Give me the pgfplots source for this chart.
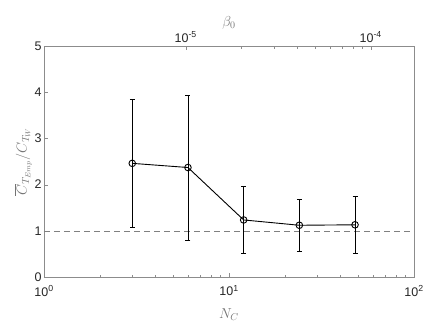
\documentclass[border=0pt]{standalone}
\usepackage{pgfplots}
\pgfplotsset{compat=1.18}
\usepackage{fontspec}
\setmainfont{Liberation Sans}

\definecolor{axgray}{gray}{0.55}
\definecolor{labgray}{gray}{0.45}

\begin{document}
\begin{tikzpicture}
	\pgfplotsset{
		every axis/.append style={
			scale only axis, width=370pt, height=231pt,
			axis line style={axgray}, tick style={axgray},
			tick align=inside,
			major tick length=4pt, minor tick length=2.5pt,
			tick label style={font=\fontsize{12.5}{14}\selectfont, black!85},
			label style={labgray, font=\fontsize{14}{16}\selectfont},
		},
	}
	\begin{axis}[
		xmode=log, xmin=1, xmax=100,
		ymin=0, ymax=5,
		xtick={1,10,100},
		xticklabels={10\textsuperscript{0},10\textsuperscript{1},10\textsuperscript{2}},
		ytick={0,1,...,5},
		xtick pos=bottom, ytick pos=left,
		xticklabel style={yshift=-5pt},
		yticklabel style={xshift=1pt},
		xlabel={$N_C$},
		ylabel={$\overline{C}_{T_{Emp}}/C_{T_W}$},
		xlabel style={yshift=-6pt},
		ylabel style={yshift=-4pt},
		/pgf/number format/assume math mode=true,
	]
	% reference level
	\addplot [gray, dashed, dash pattern=on 6pt off 4pt, line width=0.6pt] coordinates {(1,1) (100,1)};
	% mean ratio with error bars
	\addplot [black, line width=0.9pt, mark=o, mark size=3.3pt,
		error bars/.cd, y dir=both, y explicit,
		error bar style={line width=0.9pt},
		error mark options={rotate=90, mark size=2.5pt, line width=0.9pt}]
		coordinates {
			(3,2.46)  +- (0,1.38)
			(6,2.37)  +- (0,1.57)
			(12,1.235) +- (0,0.715)
			(24,1.12) +- (0,0.56)
			(48,1.13) +- (0,0.615)
		};
	\end{axis}
	\begin{axis}[
		xmode=log, xmin=1.714e-6, xmax=1.714e-4,
		ymin=0, ymax=5,
		axis x line*=top, axis y line=none,
		xtick={1e-5,1e-4},
		xticklabels={10\textsuperscript{-5},10\textsuperscript{-4}},
		xlabel={$\beta_0$},
		xlabel style={yshift=-4pt},
	]
	\end{axis}
	\pgfresetboundingbox
	\path[use as bounding box] (current axis.south west) ++(-44pt,-50pt) rectangle ++(436pt,327pt);
\end{tikzpicture}
\end{document}
